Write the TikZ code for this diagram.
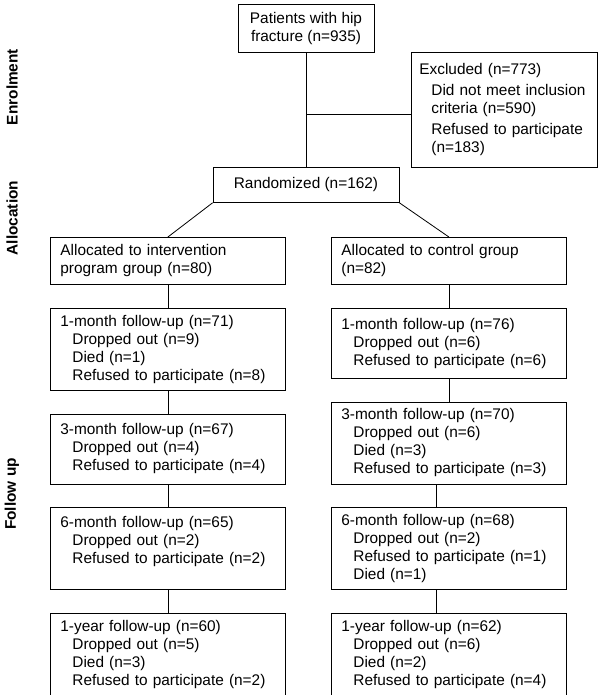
\documentclass[tikz,border=0pt]{standalone}
\usepackage{fontspec}
\setmainfont{Liberation Sans}
\usetikzlibrary{positioning}
\newcommand{\ind}{\hspace*{12pt}}

\begin{document}
\begin{tikzpicture}[x=1pt,y=-1pt,node distance=23pt]
        \tikzstyle{every node}=[font=\fontsize{15.4}{18}\selectfont]
        \tikzstyle{box}=[draw, line width=0.8pt, inner xsep=10pt, inner ysep=6.5pt]
        \tikzstyle{flow}=[box, text width=215pt, align=left]
        \tikzstyle{twoline}=[minimum height=47pt]
        \tikzstyle{threeline}=[minimum height=70pt]
        \tikzstyle{fourline}=[minimum height=82pt]
        \tikzstyle{phase}=[rotate=90, font=\fontsize{15.4}{18}\selectfont\bfseries]
        \tikzstyle{link}=[line width=0.8pt]
        \useasboundingbox (0,0) rectangle (600,695);
        \node[phase] (enrol) at (12,87) {Enrolment};
        \node[phase] (alloc) at (12,218) {Allocation};
        \node[phase] (follow) at (12,494) {Follow up};
        \node[box, align=center, minimum width=136pt, minimum height=48pt, anchor=north] (patients) at (306,4) {Patients with hip\\fracture (n=935)};
        \node[box, inner xsep=8pt, text width=170pt, align=left, minimum height=115pt, anchor=north west] (excluded) at (411,52) {Excluded (n=773)\\[3pt]\ind Did not meet inclusion\\\ind criteria (n=590)\\[3pt]\ind Refused to participate\\\ind (n=183)};
        \node[box, minimum width=186pt, minimum height=35pt, anchor=north] (random) at (306,167) {Randomized (n=162)};
        \node[flow, twoline, anchor=north west] (intAlloc) at (50,237) {Allocated to intervention\\program group (n=80)};
        \node[flow, fourline, below=of intAlloc] (int1m) {1-month follow-up (n=71)\\ \ind Dropped out (n=9)\\ \ind Died (n=1)\\ \ind Refused to participate (n=8)};
        \node[flow, threeline, below=of int1m] (int3m) {3-month follow-up (n=67)\\ \ind Dropped out (n=4)\\ \ind Refused to participate (n=4)};
        \node[flow, fourline, below=of int3m] (int6m) {6-month follow-up (n=65)\\ \ind Dropped out (n=2)\\ \ind Refused to participate (n=2)\\ \mbox{}};
        \node[flow, fourline, below=of int6m] (int1y) {1-year follow-up (n=60)\\ \ind Dropped out (n=5)\\ \ind Died (n=3)\\ \ind Refused to participate (n=2)};
        \node[flow, twoline, anchor=north west] (ctlAlloc) at (331,237) {Allocated to control group\\(n=82)};
        \node[flow, threeline, below=of ctlAlloc] (ctl1m) {1-month follow-up (n=76)\\ \ind Dropped out (n=6)\\ \ind Refused to participate (n=6)};
        \node[flow, fourline, below=of ctl1m] (ctl3m) {3-month follow-up (n=70)\\ \ind Dropped out (n=6)\\ \ind Died (n=3)\\ \ind Refused to participate (n=3)};
        \node[flow, fourline, below=of ctl3m] (ctl6m) {6-month follow-up (n=68)\\ \ind Dropped out (n=2)\\ \ind Refused to participate (n=1)\\ \ind Died (n=1)};
        \node[flow, fourline, below=of ctl6m] (ctl1y) {1-year follow-up (n=62)\\ \ind Dropped out (n=6)\\ \ind Died (n=2)\\ \ind Refused to participate (n=4)};
        \draw[link] (patients) -- (random);
        \draw[link] ([yshift=-5pt]excluded.west) -- ([yshift=-5pt]excluded.west -| patients.south);
        \draw[link] (random.south west) -- (intAlloc.north);
        \draw[link] (random.south east) -- (ctlAlloc.north);
        \foreach \a/\b in {intAlloc/int1m, int1m/int3m, int3m/int6m, int6m/int1y, ctlAlloc/ctl1m, ctl1m/ctl3m}
            \draw[link] (\a) -- (\b);
        \foreach \a/\b in {ctl3m/ctl6m, ctl6m/ctl1y}
            \draw[link] ([xshift=-13pt]\a.south) -- ([xshift=-13pt]\b.north);
    \end{tikzpicture}
\end{document}
